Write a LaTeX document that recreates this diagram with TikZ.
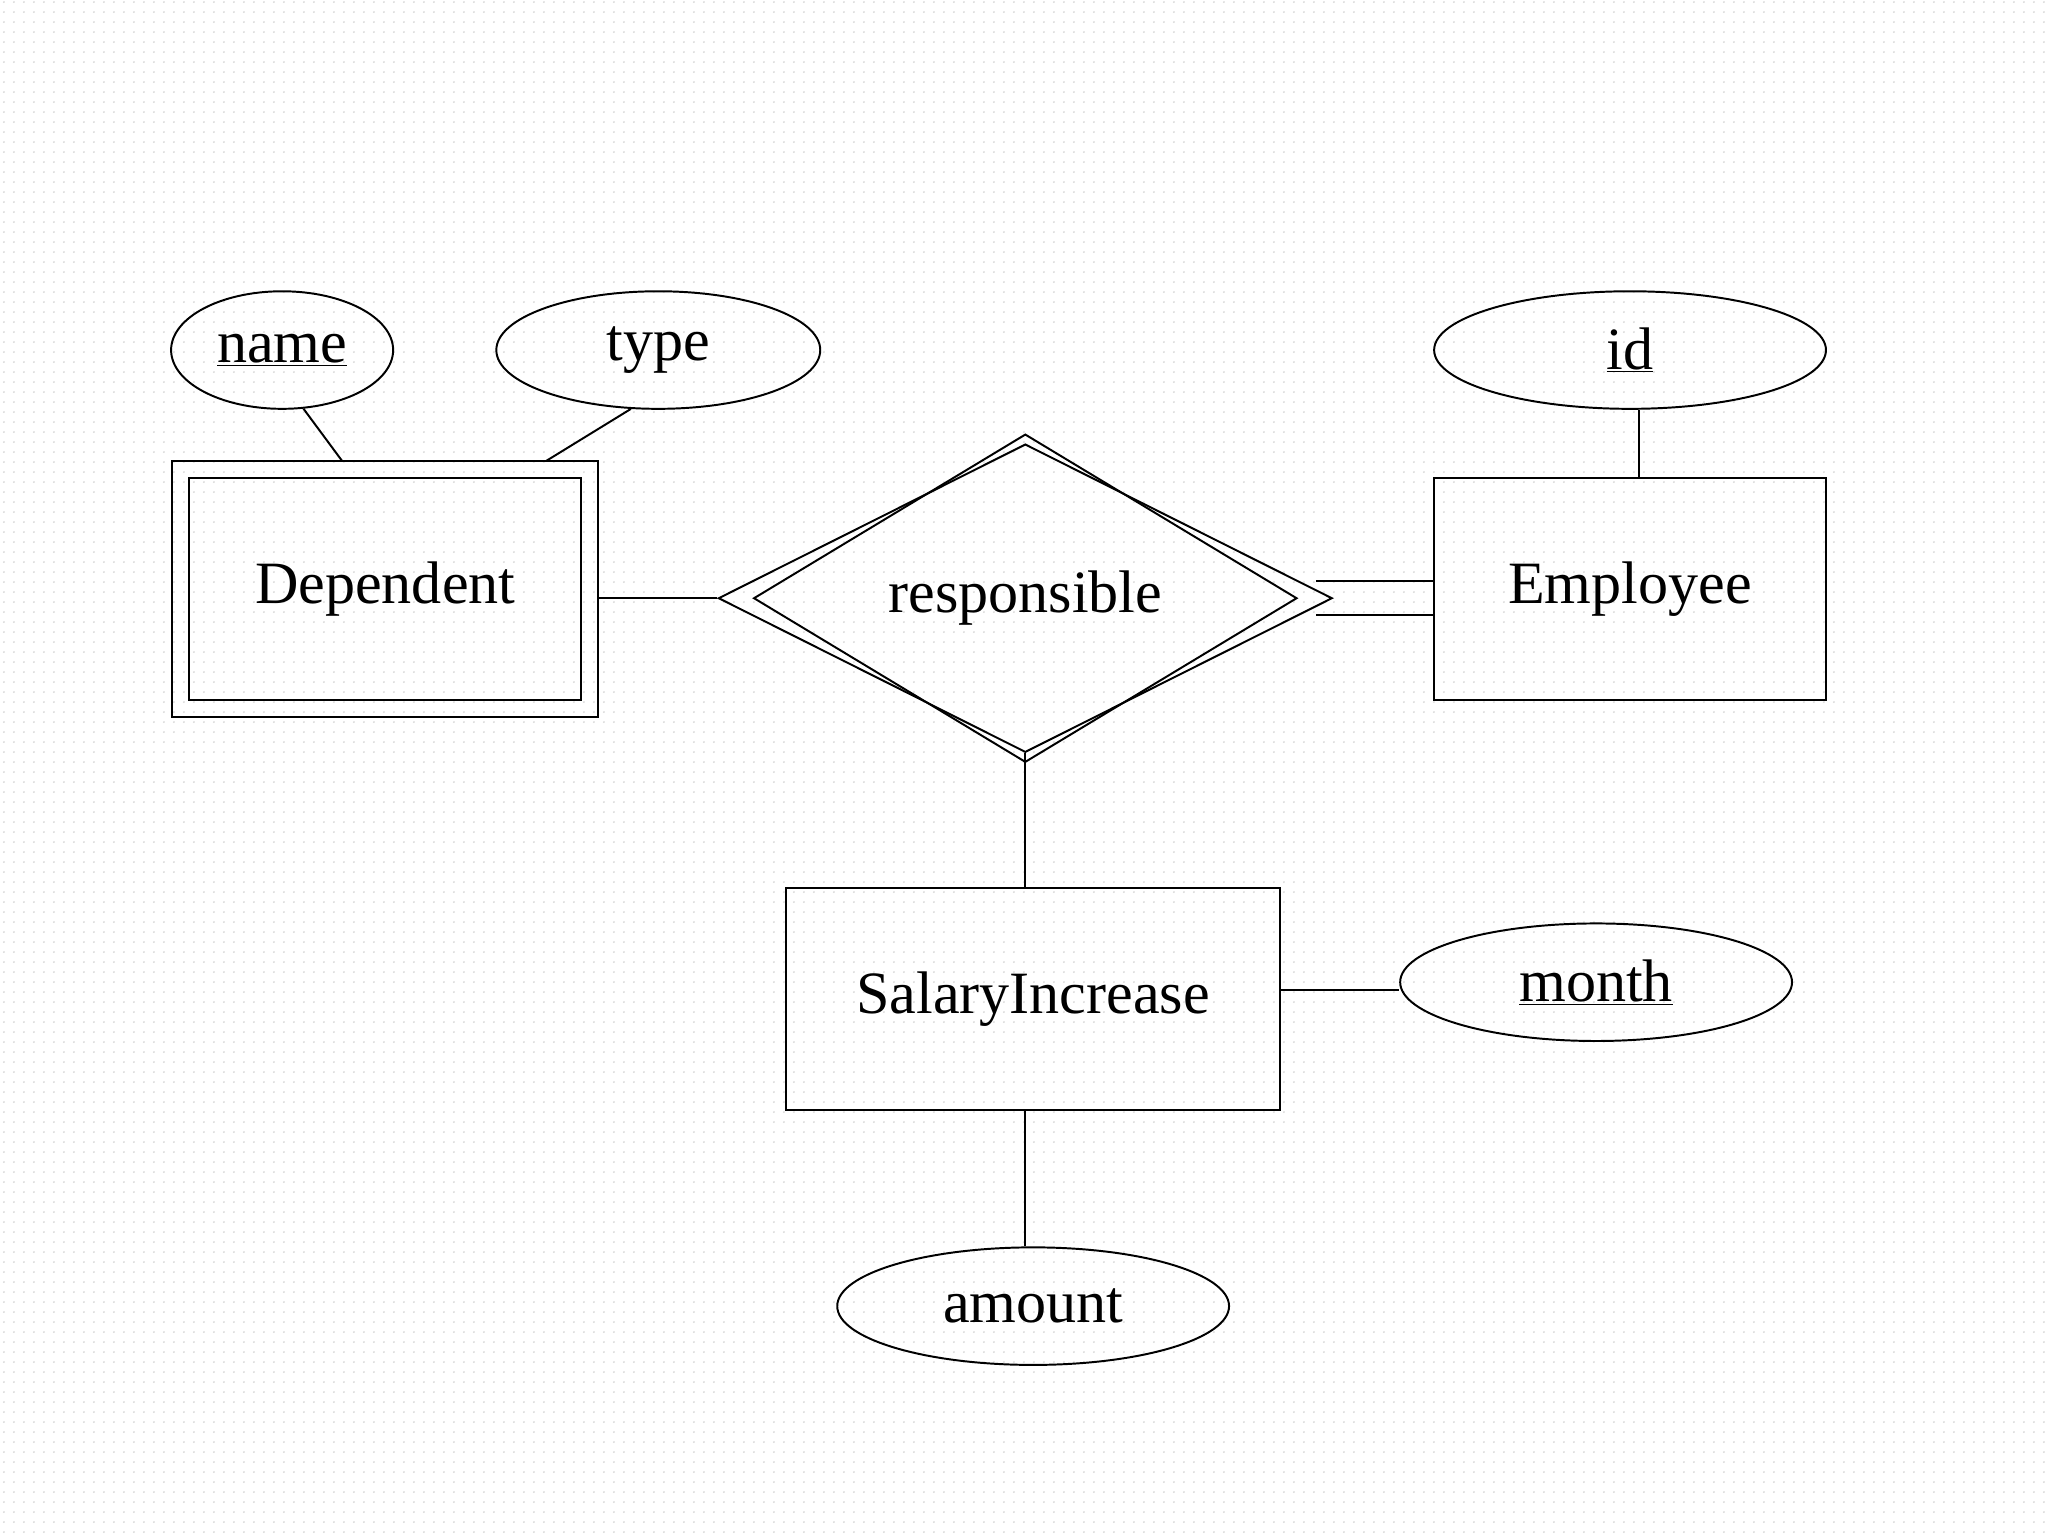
\documentclass[tikz,border=0pt]{standalone}
\usepackage{fontspec}
\setmainfont{Liberation Serif}
\usetikzlibrary{shapes.geometric,patterns,calc}
\pgfdeclarepatternformonly{mydots}{\pgfpointorigin}{\pgfqpoint{8pt}{8pt}}{\pgfqpoint{8pt}{8pt}}{\pgfpathcircle{\pgfqpoint{4pt}{4pt}}{0.8pt}\pgfusepath{fill}}
\begin{document}
\begin{tikzpicture}[x=1pt,y=-1pt,line width=1.5pt,
  lbl/.style={font=\fontsize{46}{50}\selectfont},
  attr/.style={draw,ellipse,inner sep=0pt,lbl},
  ent/.style={draw,rectangle,inner sep=0pt,lbl}]
\fill[white] (0,0) rectangle (1568,1176);
\fill[pattern=mydots,pattern color=gray!35] (0,0) rectangle (1568,1176);
\useasboundingbox (0,0) rectangle (1568,1176);
% entities
\node[ent,minimum width=326,minimum height=196] (depo) at (295,451) {};
\node[ent,minimum width=300,minimum height=170] (dep) at (295,451) {Dependent};
\node[ent,minimum width=300,minimum height=170] (emp) at (1248,451) {Employee};
\node[ent,minimum width=378,minimum height=170] (sal) at (791,765) {SalaryIncrease};
% attributes
\node[attr,minimum width=170,minimum height=90] (name) at (216,268) {\underline{name}};
\node[attr,minimum width=248,minimum height=90] (type) at (504,268) {type};
\node[attr,minimum width=300,minimum height=90] (id) at (1248,268) {\underline{id}};
\node[attr,minimum width=300,minimum height=90] (month) at (1222,752) {\underline{month}};
\node[attr,minimum width=300,minimum height=90] (amount) at (791,1000) {amount};
% relationship
\node[draw,diamond,inner sep=0pt,minimum width=470,minimum height=236] (relo) at (785,458) {};
\node[draw,diamond,inner sep=0pt,minimum width=416,minimum height=208,lbl] (rel) at (785,458) {responsible};
% connectors
\coordinate (n1) at (262,353);
\coordinate (t1) at (418,353);
\draw (name.-70) -- (n1);
\draw (type.-115) -- (t1);
\draw (id.south -| 1255,0) -- (emp.north -| 1255,0);
\draw (depo.east |- relo.west) -- (relo.west);
\draw ($(emp.west)+(0,-6)$) -- ++(-90,0);
\draw ($(emp.west)+(0,20)$) -- ++(-90,0);
\draw (relo.south) -- (sal.north -| relo.south);
\draw (sal.east |- 0,758) -- (month.west |- 0,758);
\draw (sal.south -| amount.north -| 785,0) -- (amount.north -| 785,0);
\end{tikzpicture}
\end{document}
